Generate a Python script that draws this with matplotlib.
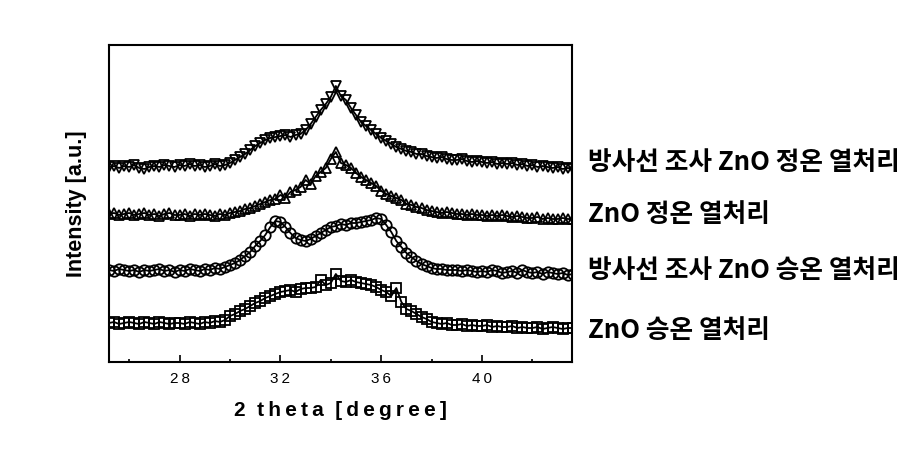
import numpy as np
import matplotlib
matplotlib.use("Agg")
import matplotlib.pyplot as plt
from matplotlib.ticker import MultipleLocator

# 2 theta grid: 25.2 .. 43.6 in 0.2 steps
x_start = 25.2
x_step = 0.2

# intensities (arbitrary units, one row per degree)
irr_const = [
    195, 196, 194, 196,
    195, 197, 194, 193, 195,
    196, 195, 197, 196, 195,
    197, 196, 198, 196, 197,
    195, 196, 198, 196, 197,
    199, 202, 205, 208, 212,
    216, 219, 222, 224, 225,
    226, 227, 225, 227, 228,
    232, 238, 245, 252, 258,
    265, 276, 266, 262, 254,
    247, 240, 236, 232, 228,
    224, 221, 218, 215, 213,
    211, 210, 208, 208, 206,
    205, 204, 205, 203, 202,
    202, 203, 201, 200, 201,
    200, 199, 200, 198, 199,
    198, 199, 197, 198, 196,
    197, 195, 196, 195, 194,
    195, 193, 194, 193,
]
zno_const = [
    148, 149, 147, 148,
    149, 147, 148, 149, 147,
    148, 146, 148, 149, 147,
    147, 148, 146, 148, 147,
    148, 147, 146, 148, 147,
    149, 150, 151, 153, 154,
    156, 158, 160, 162, 163,
    167, 164, 170, 172, 175,
    182, 178, 186, 190, 194,
    203, 210, 199, 197, 194,
    189, 185, 182, 179, 176,
    171, 168, 166, 164, 162,
    158, 157, 155, 154, 152,
    151, 150, 149, 150, 149,
    148, 148, 147, 148, 147,
    147, 146, 147, 146, 147,
    146, 145, 146, 145, 144,
    144, 145, 143, 144, 143,
    143, 144, 143, 143,
]
irr_ramp = [
    92, 91, 93, 92,
    91, 92, 90, 92, 91,
    92, 93, 91, 92, 90,
    92, 91, 93, 92, 91,
    93, 92, 94, 93, 95,
    97, 99, 102, 106, 110,
    116, 121, 127, 135, 141,
    140, 135, 129, 124, 122,
    121, 123, 126, 129, 132,
    135, 136, 138, 137, 139,
    139, 140, 141, 142, 144,
    143, 137, 130, 121, 115,
    109, 105, 101, 98, 96,
    94, 93, 93, 92, 92,
    92, 91, 92, 91, 90,
    91, 90, 92, 91, 89,
    90, 91, 89, 92, 90,
    89, 90, 88, 90, 89,
    88, 89, 87, 88,
]
zno_ramp = [
    39, 40, 38, 39,
    40, 39, 38, 40, 39,
    38, 40, 39, 38, 39,
    39, 38, 40, 39, 38,
    40, 39, 41, 40, 42,
    46, 48, 51, 53, 56,
    59, 61, 64, 66, 68,
    70, 71, 72, 70, 73,
    74, 74, 75, 82, 77,
    79, 88, 81, 80, 82,
    80, 79, 78, 77, 75,
    72, 70, 66, 74, 60,
    53, 51, 48, 45, 43,
    40, 39, 38, 39, 37,
    37, 38, 36, 37, 36,
    36, 37, 35, 36, 35,
    35, 36, 34, 35, 34,
    34, 35, 33, 34, 35,
    34, 33, 34, 34,
]

series = [irr_const, zno_const, irr_ramp, zno_ramp]
markers = ["v", "^", "o", "s"]
labels = ["방사선 조사 ZnO 정온 열처리", "ZnO 정온 열처리",
          "방사선 조사 ZnO 승온 열처리", "ZnO 승온 열처리"]
label_y = [163, 215, 270, 330]  # pixel rows of the right-hand labels
tick_vals = [28, 32, 36, 40]

fig = plt.figure(figsize=(9.2, 4.54), dpi=100)
ax = fig.add_axes([109 / 920, 92 / 454, 463 / 920, 317 / 454])

for y, m in zip(series, markers):
    x = x_start + x_step * np.arange(len(y))
    ax.plot(x, y, color="black", linewidth=1.3, marker=m, markersize=7.5,
            markerfacecolor="none", markeredgecolor="black", markeredgewidth=1.3)

ax.set_xlim(25.2, 43.57)
ax.set_ylim(0, 317)
ax.set_yticks([])
ax.xaxis.set_minor_locator(MultipleLocator(2))
ax.set_xticks(tick_vals)
ax.set_xticklabels(["\u2009".join(str(v)) for v in tick_vals],
                   family=["Liberation Sans", "DejaVu Sans"], fontsize=11)
ax.tick_params(axis="x", which="major", direction="in", length=5, width=1.2, pad=7)
ax.tick_params(axis="x", which="minor", direction="in", length=2.5, width=1.2)
for s in ax.spines.values():
    s.set_linewidth(1.5)

xlab = "  ".join("\u2009".join(w) for w in ["2", "theta", "[degree]"])
ax.set_xlabel(xlab, family=["Liberation Sans", "DejaVu Sans"], fontsize=15,
              fontweight="bold", labelpad=11)
ax.set_ylabel("Intensity [a.u.]", family=["Liberation Sans", "DejaVu Sans"],
              fontsize=15.5, fontweight="bold", labelpad=16)

for lab, py in zip(labels, label_y):
    fig.text(588 / 920, 1 - py / 454, lab, family=["Noto Sans CJK KR", "DejaVu Sans"],
             fontsize=18.5, fontweight="bold", va="center", ha="left")

fig.savefig("out.png", dpi=100)
